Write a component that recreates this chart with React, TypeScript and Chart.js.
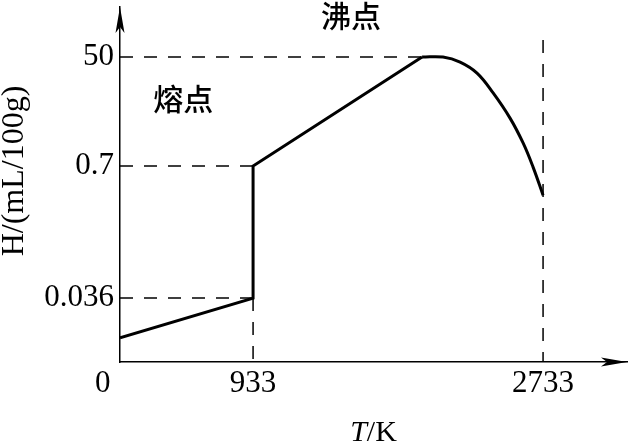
import React, { useEffect, useRef } from "react";
import { Chart, registerables } from "chart.js";

Chart.register(...registerables);

// Temperature axis (K). The drawn axis starts a little right of 0 K (schematic).
const T_AXIS_MIN = 107;
const T_AXIS_MAX = 3254;
const xTickValues = [0, 933, 2733];
const xTickLabels = ["0", "933", "2733"];

// Schematic (non-linear) solubility axis: levels 0..100 with labelled levels.
const LEVEL_MAX = 100;
const yTickLevels = [18.0, 55.2, 85.9];
const yTickLabels = ["0.036", "0.7", "50"];

// Solid + melting segment
const meltT = [107, 933, 933, 1982];
const meltLevel = [6.8, 18.0, 55.2, 85.9];

// Liquid segment after the boiling maximum
const liquidT = [1982, 2112, 2218, 2323, 2423, 2528, 2609, 2671, 2733];
const liquidLevel = [85.9, 85.9, 84.5, 81.4, 75.8, 68.7, 61.7, 54.9, 47.0];

// Dashed guides
const guideSegments: { t: number[]; level: number[] }[] = [
  { t: [107, 933], level: [18.0, 18.0] },
  { t: [107, 933], level: [55.2, 55.2] },
  { t: [107, 1982], level: [85.9, 85.9] },
  { t: [933, 933], level: [18.0, 0] },
  { t: [2733, 2733], level: [90.7, 0] },
];

// Text annotations
const noteTexts = ["沸点", "熔点"];
const noteT = [1541, 499];
const noteLevel = [97.7, 74.1];

const yTitle = "H/(mL/100g)";

const toPoints = (t: number[], l: number[]) => t.map((v, i) => ({ x: v, y: l[i] }));

const axisDecor = {
  id: "axisDecor",
  afterDraw(chart: any) {
    const { ctx, chartArea, scales } = chart;
    const { left, right, top, bottom } = chartArea;
    ctx.save();
    ctx.fillStyle = "#000";
    // y arrow
    ctx.beginPath();
    ctx.moveTo(left, top);
    ctx.lineTo(left - 4.5, top + 26);
    ctx.lineTo(left, top + 20);
    ctx.lineTo(left + 4.5, top + 26);
    ctx.closePath();
    ctx.fill();
    // x arrow
    ctx.beginPath();
    ctx.moveTo(right, bottom);
    ctx.lineTo(right - 26, bottom - 4.5);
    ctx.lineTo(right - 20, bottom);
    ctx.lineTo(right - 26, bottom + 4.5);
    ctx.closePath();
    ctx.fill();

    // Notes
    ctx.font = '500 30px "Noto Sans CJK SC"';
    ctx.textAlign = "center";
    ctx.textBaseline = "middle";
    noteTexts.forEach((s, i) => {
      ctx.fillText(s, scales.x.getPixelForValue(noteT[i]), scales.y.getPixelForValue(noteLevel[i]));
    });

    // y title (rotated)
    ctx.save();
    ctx.translate(15, 171);
    ctx.rotate(-Math.PI / 2);
    ctx.font = '32px "Liberation Serif"';
    ctx.fillText(yTitle, 0, 0);
    ctx.restore();

    // x title: italic T + "/K"
    const cx = (left + right) / 2;
    const ty = 433;
    ctx.textBaseline = "middle";
    ctx.textAlign = "left";
    ctx.font = 'italic 30px "Liberation Serif"';
    const wT = ctx.measureText("T").width;
    ctx.font = '30px "Liberation Serif"';
    const wK = ctx.measureText("/K").width;
    const x0 = cx - (wT + wK) / 2;
    ctx.font = 'italic 30px "Liberation Serif"';
    ctx.fillText("T", x0, ty);
    ctx.font = '30px "Liberation Serif"';
    ctx.fillText("/K", x0 + wT, ty);
    ctx.restore();
  },
};

export default function App() {
  const ref = useRef<HTMLCanvasElement>(null);
  useEffect(() => {
    if (!ref.current) return;
    const datasets: any[] = [
      {
        data: toPoints(meltT, meltLevel),
        borderColor: "#000",
        borderWidth: 3,
        pointRadius: 0,
        tension: 0,
        borderJoinStyle: "miter",
      },
      {
        data: toPoints(liquidT, liquidLevel),
        borderColor: "#000",
        borderWidth: 3,
        pointRadius: 0,
        tension: 0.4,
      },
      ...guideSegments.map((g) => ({
        data: toPoints(g.t, g.level),
        borderColor: "#000",
        borderWidth: 1.5,
        borderDash: [13, 11],
        pointRadius: 0,
        tension: 0,
      })),
    ];
    const chart = new Chart(ref.current, {
      type: "line",
      data: { datasets },
      plugins: [axisDecor],
      options: {
        animation: false,
        responsive: false,
        layout: { padding: { top: 7, right: 2, left: 0, bottom: 0 } },
        plugins: { legend: { display: false }, tooltip: { enabled: false } },
        elements: { line: { fill: false } },
        scales: {
          x: {
            type: "linear",
            min: T_AXIS_MIN,
            max: T_AXIS_MAX,
            grid: { display: false, drawTicks: false },
            border: { display: true, color: "#000", width: 1.5 },
            afterBuildTicks: (s: any) => {
              s.ticks = xTickValues.map((v) => ({ value: v }));
            },
            afterFit: (s: any) => {
              s.height = 83;
              s.paddingLeft = 0;
              s.paddingRight = 0;
            },
            ticks: {
              color: "#000",
              font: { family: "Liberation Serif", size: 31 },
              padding: 3,
              maxRotation: 0,
              autoSkip: false,
              callback: (v: any) => {
                const i = xTickValues.indexOf(Number(v));
                return i >= 0 ? xTickLabels[i] : "";
              },
            },
          },
          y: {
            type: "linear",
            min: 0,
            max: LEVEL_MAX,
            grid: { display: false, drawTicks: false },
            border: { display: true, color: "#000", width: 1.5 },
            afterBuildTicks: (s: any) => {
              s.ticks = yTickLevels.map((v) => ({ value: v }));
            },
            afterFit: (s: any) => {
              s.width = 120;
              s.paddingTop = 0;
              s.paddingBottom = 0;
            },
            ticks: {
              color: "#000",
              font: { family: "Liberation Serif", size: 31 },
              padding: 6,
              autoSkip: false,
              callback: (v: any) => {
                const i = yTickLevels.indexOf(Number(v));
                return i >= 0 ? yTickLabels[i] : "";
              },
            },
          },
        },
      } as any,
    });
    return () => chart.destroy();
  }, []);
  return (
    <div style={{ position: "absolute", left: 0, top: 0, width: 629, height: 445, background: "#fff" }}>
      <canvas ref={ref} width={629} height={445} style={{ display: "block" }} />
    </div>
  );
}
